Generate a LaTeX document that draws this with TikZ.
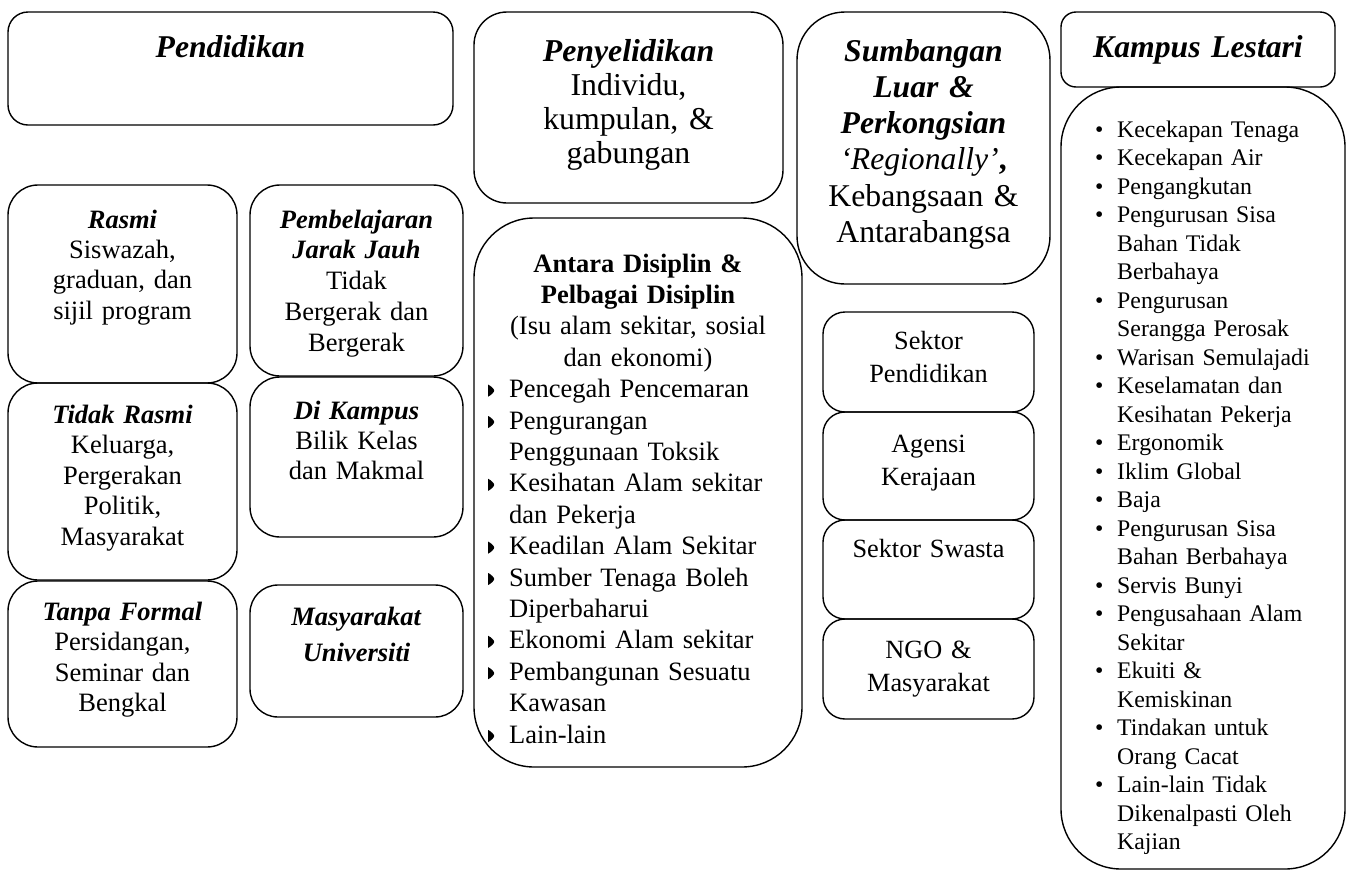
\documentclass[tikz,border=0pt]{standalone}
\usepackage{fontspec}
\setmainfont{Liberation Serif}
\newcommand\bi[1]{\textbf{\textit{#1}}}
\newcommand\fsz[2]{\fontsize{#1pt}{#2pt}\selectfont}
\newcommand\tri{\tikz[baseline=0pt]\fill (0pt,1pt) -- (0pt,13pt) .. controls (3pt,11.5pt) and (6pt,8.5pt) .. (6pt,7pt) .. controls (6pt,5.5pt) and (3pt,2.5pt) .. cycle;}
\newcommand\mi[1]{\makebox[21pt][l]{\tri}#1}
\newcommand\mc[1]{\hspace*{21pt}#1}
\newcommand\ri[1]{\makebox[22pt][l]{•}#1}
\newcommand\rc[1]{\hspace*{22pt}#1}
\tikzset{
  rbox/.style n args={3}{draw, line width=1.4pt, rounded corners=#1, inner sep=0pt, outer sep=0pt, minimum width=#2, minimum height=#3},
  ctext/.style={anchor=base, inner sep=0pt, text width=#1, align=center},
  ltext/.style={anchor=base west, inner sep=0pt, text width=#1, align=left},
}
\begin{document}
\begin{tikzpicture}[x=1pt,y=-1pt]
\useasboundingbox (0,0) rectangle (1347,871);
% boxes
\node[rbox={20pt}{445pt}{113pt}] (pend) at (230.5,68.5) {};
\node[rbox={30pt}{229pt}{198pt}] (rasmi) at (122.5,284) {};
\node[rbox={30pt}{229pt}{197pt}] (tidak) at (122.5,481.5) {};
\node[rbox={30pt}{229pt}{166pt}] (tanpa) at (122.5,664) {};
\node[rbox={30pt}{213pt}{191pt}] (pjj) at (356.5,280.5) {};
\node[rbox={30pt}{213pt}{160pt}] (dik) at (356.5,457) {};
\node[rbox={28pt}{213pt}{132pt}] (mu) at (356.5,651) {};
\node[rbox={33pt}{309pt}{191pt}] (peny) at (628.5,107.5) {};
\node[rbox={60pt}{328pt}{549pt}] (antara) at (638,492.5) {};
\node[rbox={48pt}{253pt}{272pt}] (sumb) at (923.5,148) {};
\node[rbox={22pt}{211pt}{100pt}] (sp) at (928.5,362) {};
\node[rbox={22pt}{211pt}{108pt}] (ak) at (928.5,466) {};
\node[rbox={22pt}{211pt}{99pt}] (ss) at (928.5,569.5) {};
\node[rbox={22pt}{211pt}{100pt}] (ngo) at (928.5,669) {};
\node[rbox={15pt}{274pt}{75pt}] (kl) at (1198,49.5) {};
\node[rbox={60pt}{284pt}{782pt}] (list) at (1203,478) {};
% texts
\node[ctext=430pt, font=\fsz{31.7}{34}] (tpend) at (230.5,57) {\bi{Pendidikan}};
\node[ctext=220pt, font=\fsz{26.5}{30.4}] (trasmi) at (122.5,228) {\bi{Rasmi}\\Siswazah,\\graduan, dan\\sijil program};
\node[ctext=220pt, font=\fsz{26.5}{30.5}] (ttidak) at (122.5,423) {\bi{Tidak Rasmi}\\Keluarga,\\Pergerakan\\Politik,\\Masyarakat};
\node[ctext=220pt, font=\fsz{26.5}{30.5}] (ttanpa) at (122.5,620) {\bi{Tanpa Formal}\\Persidangan,\\Seminar dan\\Bengkal};
\node[ctext=205pt, font=\fsz{26.5}{30.75}] (tpjj) at (356.5,228) {\bi{Pembelajaran}\\\bi{Jarak Jauh}\\Tidak\\Bergerak dan\\Bergerak};
\node[ctext=205pt, font=\fsz{26.5}{30}] (tdik) at (356.5,419) {\bi{Di Kampus}\\Bilik Kelas\\dan Makmal};
\node[ctext=205pt, font=\fsz{26.5}{36}] (tmu) at (356.5,625) {\bi{Masyarakat}\\\bi{Universiti}};
\node[ctext=300pt, font=\fsz{31.8}{34}] (tpeny) at (628.5,61) {\bi{Penyelidikan}\\Individu,\\kumpulan, \&\\gabungan};
\node[ctext=320pt, font=\fsz{26.5}{31.4}] (tantara) at (638,272) {\textbf{Antara Disiplin \&}\\\textbf{Pelbagai Disiplin}\\(Isu alam sekitar, sosial\\dan ekonomi)};
\node[ltext=310pt, font=\fsz{26.5}{31.4}] (tantaral) at (488,397.6) {\mi{Pencegah Pencemaran}\\\mi{Pengurangan}\\\mc{Penggunaan Toksik}\\\mi{Kesihatan Alam sekitar}\\\mc{dan Pekerja}\\\mi{Keadilan Alam Sekitar}\\\mi{Sumber Tenaga Boleh}\\\mc{Diperbaharui}\\\mi{Ekonomi Alam sekitar}\\\mi{Pembangunan Sesuatu}\\\mc{Kawasan}\\\mi{Lain-lain}};
\node[ctext=245pt, font=\fsz{31.7}{36.3}] (tsumb) at (923.5,61) {\bi{Sumbangan}\\\bi{Luar \&}\\\bi{Perkongsian}\\\textit{‘Regionally’}\textbf{,}\\Kebangsaan \&\\Antarabangsa};
\node[ctext=205pt, font=\fsz{26.3}{33}] (tsp) at (928.5,349) {Sektor\\Pendidikan};
\node[ctext=205pt, font=\fsz{26.3}{33}] (tak) at (928.5,452) {Agensi\\Kerajaan};
\node[ctext=205pt, font=\fsz{26.3}{33}] (tss) at (928.5,557) {Sektor Swasta};
\node[ctext=205pt, font=\fsz{26.3}{33}] (tngo) at (928.5,658) {NGO \&\\Masyarakat};
\node[ctext=265pt, font=\fsz{31.7}{34}] (tkl) at (1198,57) {\bi{Kampus Lestari}};
\node[ltext=245pt, font=\fsz{23.8}{28.5}] (tlist) at (1095,137) {\ri{Kecekapan Tenaga}\\\ri{Kecekapan Air}\\\ri{Pengangkutan}\\\ri{Pengurusan Sisa}\\\rc{Bahan Tidak}\\\rc{Berbahaya}\\\ri{Pengurusan}\\\rc{Serangga Perosak}\\\ri{Warisan Semulajadi}\\\ri{Keselamatan dan}\\\rc{Kesihatan Pekerja}\\\ri{Ergonomik}\\\ri{Iklim Global}\\\ri{Baja}\\\ri{Pengurusan Sisa}\\\rc{Bahan Berbahaya}\\\ri{Servis Bunyi}\\\ri{Pengusahaan Alam}\\\rc{Sekitar}\\\ri{Ekuiti \&}\\\rc{Kemiskinan}\\\ri{Tindakan untuk}\\\rc{Orang Cacat}\\\ri{Lain-lain Tidak}\\\rc{Dikenalpasti Oleh}\\\rc{Kajian}};
\end{tikzpicture}
\end{document}
